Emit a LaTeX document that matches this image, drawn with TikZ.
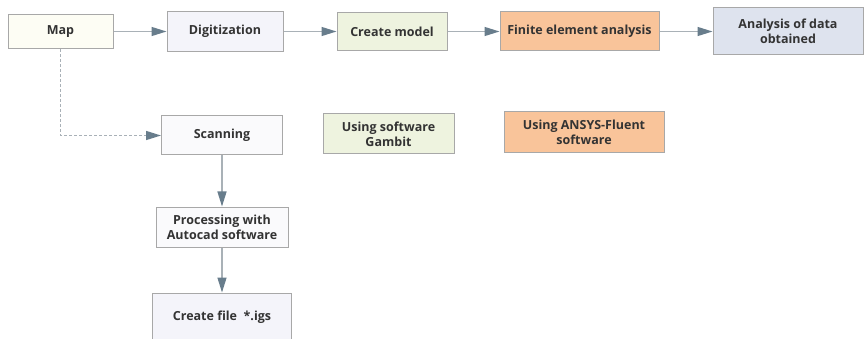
\documentclass[tikz,border=0pt]{standalone}
\usepackage{fontspec}
\setmainfont{Open Sans}
\usepackage{tikz}
\usetikzlibrary{arrows.meta}
\usepackage{xcolor}

\definecolor{boxline}{HTML}{A8A8A8}
\definecolor{linkline}{HTML}{A9B1B7}
\definecolor{tipgray}{HTML}{687D8C}
\definecolor{textgray}{HTML}{333333}
\definecolor{mapfill}{HTML}{FDFDF4}
\definecolor{lavfill}{HTML}{F4F4FA}
\definecolor{greenfill}{HTML}{EEF3DF}
\definecolor{orangefill}{HTML}{F9C49A}
\definecolor{bluefill}{HTML}{DEE3EE}
\definecolor{whitefill}{HTML}{FAFAFC}

\tikzset{
	stepbox/.style={draw=boxline, line width=1pt, align=center,
		text=textgray, font=\fontsize{12.5}{15}\selectfont\bfseries,
		inner sep=0pt},
	link/.style={draw=linkline, line width=1.4pt,
		-{Triangle[length=15pt,width=9pt,color=tipgray]}},
	dashlink/.style={link, dashed, dash pattern=on 3pt off 2pt}
}

\begin{document}
\begin{tikzpicture}[x=1pt,y=-1pt]
		\useasboundingbox (0,0) rectangle (864,339);
		
		% top row
		\node[stepbox, fill=mapfill, minimum width=105pt, minimum height=34pt] 
		(map) at (60.5,31.5) {Map};
		\node[stepbox, fill=lavfill, minimum width=116pt, minimum height=40pt] 
		(digit) at (225,31.5) {Digitization};
		\node[stepbox, fill=greenfill, minimum width=110pt, minimum height=38pt] 
		(model) at (392,31.5) {Create model};
		\node[stepbox, fill=orangefill, minimum width=159pt, minimum height=39pt] 
		(fea) at (579.5,31.5) {Finite element analysis};
		\node[stepbox, fill=bluefill, minimum width=150pt, minimum height=47pt] 
		(result) at (788,31.5) {Analysis of data\\obtained};
		
		% second row
		\node[stepbox, fill=whitefill, minimum width=121pt, minimum height=39pt] 
		(scan) at (222,135.5) {Scanning};
		\node[stepbox, fill=greenfill, minimum width=131pt, minimum height=40pt] 
		(gambit) at (388.5,134) {Using software\\Gambit};
		\node[stepbox, fill=orangefill, minimum width=160pt, minimum height=41pt] 
		(ansys) at (584,132.5) {Using ANSYS-Fluent\\software};
		
		% left column
		\node[stepbox, fill=whitefill, minimum width=132pt, minimum height=40pt] 
		(autocad) at (222,227) {Processing with\\Autocad software};
		\node[stepbox, fill=lavfill, minimum width=139pt, minimum height=48pt] 
		(igs) at (222,317) {Create file~~*.igs};
		
		\draw[link] (map) -- (digit);
		\draw[link] (digit) -- (model);
		\draw[link] (model) -- (fea);
		\draw[link] (fea) -- (result);
		
		\draw[dashlink] (map.south) |- (scan.west);
		\draw[link] (scan) -- (autocad);
		\draw[link] (autocad) -- (igs);
	\end{tikzpicture}
\end{document}
